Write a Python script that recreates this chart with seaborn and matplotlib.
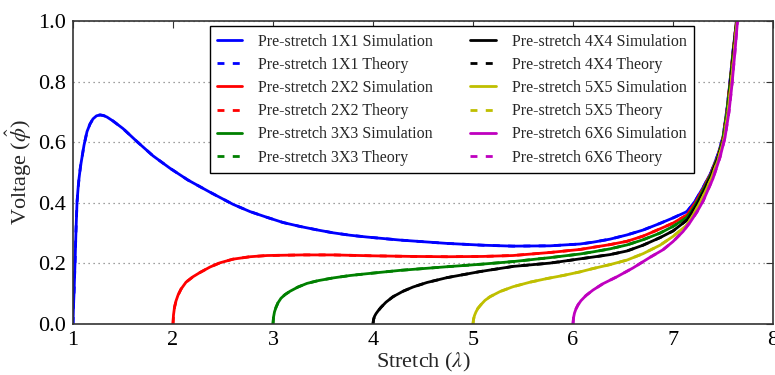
import matplotlib
matplotlib.use("Agg")
import matplotlib.pyplot as plt
import seaborn as sns
import pandas as pd

# ---------------- data ----------------
lam_1 = [1.0, 1.005, 1.01, 1.02, 1.03, 1.04, 1.05, 1.06, 1.075, 1.09, 1.11, 1.14, 1.17,
         1.2, 1.235, 1.27, 1.305, 1.34, 1.4, 1.5, 1.64, 1.8, 1.97, 2.15, 2.37, 2.6,
         2.77, 2.94, 3.1, 3.27, 3.45, 3.6, 3.77, 3.94, 4.27, 4.74, 5.1, 5.4, 5.77, 6.07,
         6.2, 6.37, 6.54, 6.7, 6.87, 7.0, 7.14, 7.22, 7.3, 7.38, 7.45, 7.5, 7.54, 7.57,
         7.6, 7.635]
phi_1 = [0.0, 0.06, 0.10, 0.20, 0.31, 0.40, 0.445, 0.48, 0.52, 0.55, 0.59, 0.635, 0.66,
         0.677, 0.687, 0.69, 0.688, 0.683, 0.67, 0.645, 0.602, 0.555, 0.514, 0.475,
         0.435, 0.395, 0.371, 0.352, 0.335, 0.322, 0.31, 0.301, 0.293, 0.287, 0.277,
         0.266, 0.26, 0.257, 0.258, 0.264, 0.27, 0.28, 0.294, 0.31, 0.332, 0.35, 0.371,
         0.405, 0.45, 0.50, 0.56, 0.617, 0.71, 0.80, 0.90, 1.0]

lam_2 = [2.0, 2.005, 2.015, 2.03, 2.05, 2.08, 2.13, 2.2, 2.27, 2.37, 2.47, 2.6, 2.77,
         2.94, 3.3, 3.6, 4.0, 4.4, 4.74, 5.1, 5.4, 5.77, 6.07, 6.2, 6.37, 6.54, 6.7,
         6.87, 7.0, 7.14, 7.22, 7.3, 7.38, 7.45, 7.5, 7.54, 7.57, 7.6, 7.635]
phi_2 = [0.0, 0.03, 0.055, 0.076, 0.095, 0.115, 0.138, 0.156, 0.17, 0.188, 0.202, 0.214,
         0.222, 0.226, 0.228, 0.228, 0.225, 0.223, 0.222, 0.223, 0.226, 0.236, 0.246,
         0.253, 0.262, 0.273, 0.29, 0.314, 0.333, 0.36, 0.398, 0.445, 0.497, 0.555,
         0.613, 0.705, 0.795, 0.895, 1.0]

lam_3 = [3.0, 3.005, 3.015, 3.03, 3.05, 3.08, 3.12, 3.17, 3.25, 3.34, 3.45, 3.6, 3.77,
         3.94, 4.27, 4.74, 5.07, 5.4, 5.77, 6.07, 6.2, 6.37, 6.54, 6.7, 6.87, 7.0, 7.14,
         7.22, 7.3, 7.38, 7.45, 7.5, 7.54, 7.57, 7.6, 7.637]
phi_3 = [0.0, 0.022, 0.04, 0.055, 0.07, 0.085, 0.097, 0.108, 0.122, 0.134, 0.143, 0.152,
         0.16, 0.166, 0.177, 0.189, 0.197, 0.206, 0.219, 0.231, 0.238, 0.248, 0.261,
         0.278, 0.30, 0.322, 0.352, 0.39, 0.44, 0.493, 0.552, 0.61, 0.70, 0.79, 0.89,
         1.0]

lam_4 = [4.0, 4.005, 4.015, 4.03, 4.05, 4.08, 4.13, 4.2, 4.3, 4.4, 4.54, 4.74, 5.07,
         5.4, 5.77, 6.07, 6.2, 6.37, 6.54, 6.7, 6.87, 7.0, 7.14, 7.22, 7.3, 7.38, 7.45,
         7.51, 7.55, 7.575, 7.605, 7.638]
phi_4 = [0.0, 0.014, 0.025, 0.034, 0.043, 0.055, 0.072, 0.09, 0.108, 0.122, 0.137,
         0.153, 0.173, 0.19, 0.201, 0.215, 0.221, 0.229, 0.241, 0.26, 0.285, 0.307,
         0.343, 0.383, 0.433, 0.488, 0.548, 0.615, 0.70, 0.79, 0.89, 1.0]

lam_5 = [5.0, 5.005, 5.015, 5.03, 5.05, 5.08, 5.12, 5.17, 5.27, 5.4, 5.57, 5.74, 5.9,
         6.07, 6.2, 6.37, 6.54, 6.7, 6.87, 7.0, 7.14, 7.22, 7.3, 7.38, 7.45, 7.51, 7.55,
         7.58, 7.61, 7.64]
phi_5 = [0.0, 0.015, 0.028, 0.04, 0.052, 0.064, 0.078, 0.09, 0.107, 0.123, 0.138, 0.15,
         0.16, 0.172, 0.183, 0.196, 0.211, 0.232, 0.26, 0.289, 0.327, 0.37, 0.42, 0.478,
         0.54, 0.612, 0.70, 0.79, 0.89, 1.0]

lam_6 = [6.0, 6.005, 6.015, 6.03, 6.05, 6.08, 6.13, 6.2, 6.3, 6.44, 6.6, 6.77, 6.9, 7.0,
         7.1, 7.17, 7.24, 7.3, 7.4, 7.47, 7.52, 7.56, 7.59, 7.62, 7.645]
phi_6 = [0.0, 0.02, 0.036, 0.05, 0.063, 0.077, 0.094, 0.112, 0.133, 0.156, 0.185, 0.22,
         0.245, 0.272, 0.305, 0.335, 0.37, 0.405, 0.48, 0.55, 0.615, 0.70, 0.79, 0.90,
         1.0]

prestretch = ["1X1", "2X2", "3X3", "4X4", "5X5", "6X6"]
lams = [lam_1, lam_2, lam_3, lam_4, lam_5, lam_6]
phis = [phi_1, phi_2, phi_3, phi_4, phi_5, phi_6]
colors = ["#0000ff", "#ff0000", "#008000", "#000000", "#bfbf00", "#bf00bf"]

x_ticks = [1, 2, 3, 4, 5, 6, 7, 8]
y_ticks = [0.0, 0.2, 0.4, 0.6, 0.8, 1.0]

# ---------------- style ----------------
sns.set_style("white")
plt.rcParams["font.family"] = ["Liberation Serif", "DejaVu Serif"]
plt.rcParams["mathtext.fontset"] = "stix"

fig = plt.figure(figsize=(7.75, 3.75), dpi=100)
ax = fig.add_axes([0.0942, 0.136, 0.9032, 0.808])

for name, lx, py, c in zip(prestretch, lams, phis, colors):
    df = pd.DataFrame({"lam": lx, "phi": py})
    sns.lineplot(data=df, x="lam", y="phi", ax=ax, color=c, lw=2.0,
                 estimator=None, sort=False, label=f"Pre-stretch {name} Simulation")
    sns.lineplot(data=df, x="lam", y="phi", ax=ax, color=c, lw=2.0,
                 estimator=None, sort=False, label=f"Pre-stretch {name} Theory")
    ax.lines[-1].set_dashes((2.5, 3.0))

ax.set_xlim(1, 8)
ax.set_ylim(0, 1.0)
ax.set_xticks(x_ticks)
ax.set_yticks(y_ticks)
ax.set_xticklabels([str(t) for t in x_ticks])
ax.set_yticklabels([f"{t:.1f}" for t in y_ticks])
ax.tick_params(direction="in", top=True, right=True, length=5, width=0.8,
               labelsize=16, colors="#333333", labelcolor="black", pad=5)
ax.yaxis.grid(True, linestyle=(0, (1, 3)), color="#808080", lw=0.9)
ax.xaxis.grid(False)
for s in ax.spines.values():
    s.set_color("#333333")
    s.set_linewidth(1.2)

ax.set_xlabel(r"Stretch ($\lambda$)", fontsize=16, labelpad=1)
ax.set_ylabel(r"Voltage ($\hat{\phi}$)", fontsize=16, labelpad=3)

handles, labels = ax.get_legend_handles_labels()
leg = ax.legend(handles, labels, ncol=2, loc="upper center",
                bbox_to_anchor=(0.541, 0.982), fontsize=11.5, frameon=True,
                fancybox=False, edgecolor="black", framealpha=1.0,
                handlelength=1.6, handletextpad=1.0, columnspacing=2.3,
                labelspacing=0.45, borderpad=0.45, borderaxespad=0)
leg.get_frame().set_linewidth(1.0)

fig.savefig("out.png", dpi=100)
